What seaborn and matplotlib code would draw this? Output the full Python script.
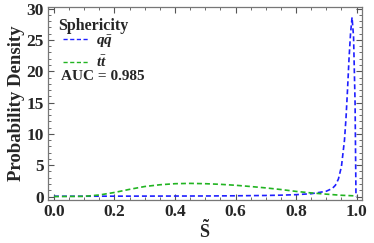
import pandas as pd
import seaborn as sns
import matplotlib.pyplot as plt
from matplotlib.ticker import MultipleLocator

# Data
qq_s = [0.0, 0.1, 0.2, 0.3, 0.4, 0.5, 0.6, 0.7, 0.75, 0.8, 0.85, 0.87, 0.9, 0.92,
        0.93, 0.94, 0.95, 0.96, 0.965, 0.97, 0.975, 0.98, 0.985, 0.99, 0.995, 0.997, 0.998]
qq_density = [0.05, 0.05, 0.06, 0.07, 0.08, 0.09, 0.12, 0.17, 0.22, 0.3, 0.45, 0.6, 0.85, 1.3,
              1.8, 2.8, 4.8, 9.0, 12.5, 17.0, 22.0, 26.0, 28.6, 25.5, 15.0, 5.0, 0.0]

tt_s = [0.0, 0.1, 0.15, 0.2, 0.25, 0.3, 0.35, 0.4, 0.45, 0.5, 0.55, 0.6, 0.65, 0.7,
        0.75, 0.8, 0.85, 0.9, 0.95, 1.0]
tt_density = [0.0, 0.03, 0.25, 0.65, 1.15, 1.6, 1.88, 2.05, 2.1, 2.05, 1.95, 1.8, 1.6, 1.38,
              1.12, 0.82, 0.58, 0.38, 0.2, 0.1]

labels = [r'$q\bar{q}$', r'$t\bar{t}$']
colors = ['#1f1fff', '#22b422']
legend_title = 'Sphericity'
auc_text = 'AUC = 0.985'

sns.set_style('ticks')
plt.rcParams['font.family'] = ['Liberation Serif', 'DejaVu Serif']
plt.rcParams['font.weight'] = 'bold'
plt.rcParams['mathtext.fontset'] = 'custom'
plt.rcParams['mathtext.rm'] = 'Liberation Serif:bold'
plt.rcParams['mathtext.it'] = 'Liberation Serif:bold:italic'
plt.rcParams['mathtext.bf'] = 'Liberation Serif:bold'

df_qq = pd.DataFrame({'s': qq_s, 'density': qq_density})
df_tt = pd.DataFrame({'s': tt_s, 'density': tt_density})

fig = plt.figure(figsize=(3.74, 2.43), dpi=100)
ax = fig.add_axes([0.128, 0.177, 0.84, 0.794])

sns.lineplot(data=df_qq, x='s', y='density', ax=ax, color=colors[0], lw=1.2,
             label=labels[0], estimator=None, sort=False)
sns.lineplot(data=df_tt, x='s', y='density', ax=ax, color=colors[1], lw=1.2,
             label=labels[1], estimator=None, sort=False)
for line in ax.lines:
    line.set_dashes((3, 1.8))

ax.set_xlim(-0.02, 1.018)
ax.set_ylim(-0.55, 30.25)
ax.xaxis.set_major_locator(MultipleLocator(0.2))
ax.xaxis.set_minor_locator(MultipleLocator(0.05))
ax.yaxis.set_major_locator(MultipleLocator(5))
ax.yaxis.set_minor_locator(MultipleLocator(1))
ax.tick_params(which='both', direction='in', top=True, right=True, color='#555555',
               labelsize=12.5, pad=3)
ax.tick_params(which='major', length=4, width=0.8)
ax.tick_params(which='minor', length=2, width=0.6)
ax.xaxis.set_major_formatter(plt.FuncFormatter(lambda v, p: f'{v:.1f}'))
for lab in ax.get_xticklabels() + ax.get_yticklabels():
    lab.set_fontweight('bold')
for sp in ax.spines.values():
    sp.set_color('#777777')
    sp.set_linewidth(0.9)

ax.set_xlabel(r'$\tilde{\mathrm{S}}$', fontsize=13, labelpad=0)
ax.set_ylabel('Probability Density', fontsize=13.5, fontweight='bold', labelpad=1)

# legend entries without title; title and AUC placed as text
leg = ax.legend(loc='upper left', frameon=False, fontsize=11,
                handlelength=1.65, handletextpad=0.5, borderaxespad=0.0,
                labelspacing=0.3, borderpad=0.0, bbox_to_anchor=(0.048, 0.865))
for h in leg.legend_handles:
    h.set_linewidth(1.0)
ax.text(0.032, 0.902, legend_title, transform=ax.transAxes, fontsize=11.5,
        fontweight='bold', va='center', ha='left')
ax.text(0.042, 0.642, auc_text, transform=ax.transAxes, fontsize=11,
        fontweight='bold', va='center', ha='left')

fig.savefig('out.png', dpi=100)
